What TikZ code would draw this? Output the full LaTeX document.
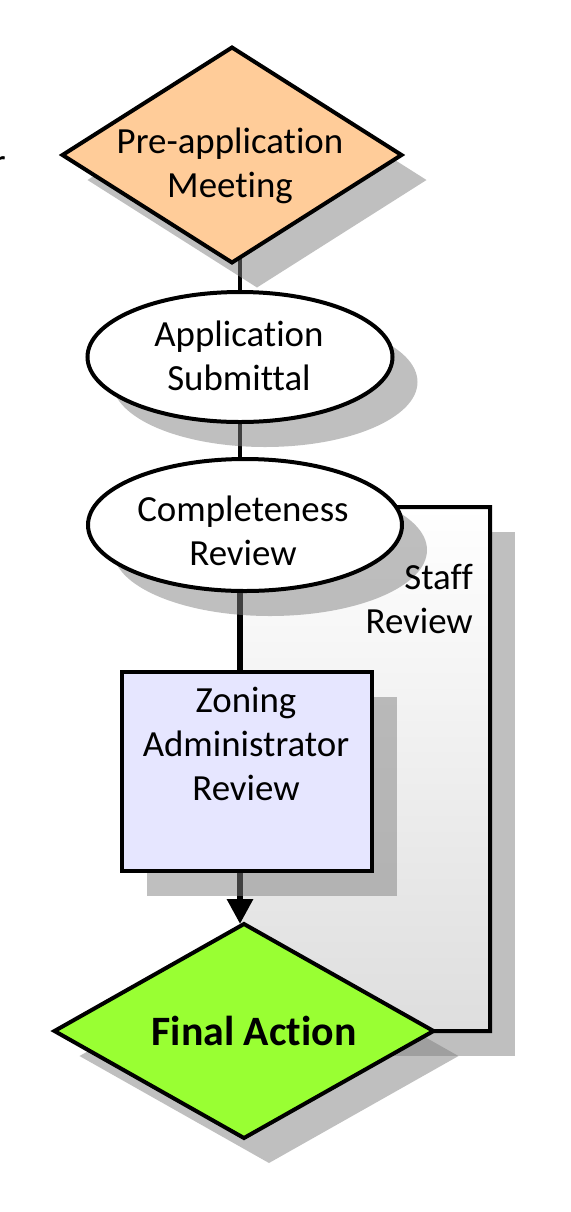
\documentclass[tikz,border=0pt]{standalone}
\usepackage{fontspec}
\setmainfont[Ligatures=NoCommon]{Carlito}
\usetikzlibrary{shapes.geometric,shadows,arrows.meta,backgrounds}
\definecolor{preclr}{RGB}{255,204,153}
\definecolor{zonclr}{RGB}{230,230,255}
\definecolor{finclr}{RGB}{153,255,51}
\tikzset{
  shad/.style={general shadow={fill=black!50, opacity=.5, shadow xshift=25bp, shadow yshift=-25bp}},
  shapebox/.style={draw=black, line width=4bp, inner sep=0pt, outer sep=0pt, shad},
  txt/.style={font=\fontsize{37}{44}\selectfont, align=center, inner sep=0pt},
  conn/.style={line width=4.5bp},
  thickconn/.style={line width=6bp},
}
\begin{document}
\begin{tikzpicture}[x=1bp,y=-1bp]
\useasboundingbox (0,0) rectangle (571,1212);
% shapes
\node[shapebox, diamond, fill=preclr, minimum width=339bp, minimum height=215bp] (pre) at (232,155) {};
\node[shapebox, ellipse, fill=white, minimum width=305bp, minimum height=130bp] (app) at (240,357) {};
\node[shapebox, ellipse, fill=white, minimum width=314bp, minimum height=132bp] (comp) at (245,525) {};
\node[shapebox, rectangle, fill=zonclr, minimum width=250bp, minimum height=199bp] (zon) at (247,771.5) {};
\node[shapebox, diamond, fill=finclr, minimum width=379bp, minimum height=214bp] (final) at (244,1031) {};
% texts
\node[txt] (pre-t) at (230,166) {Pre-application\\Meeting};
\node[txt] (app-t) at (239,356) {Application\\Submittal};
\node[txt] (comp-t) at (243,531) {Completeness\\Review};
\node[txt] (zon-t) at (246,744) {Zoning\\Administrator\\Review};
\node[txt, align=right, anchor=east] (staff-t) at (473,599) {Staff\\Review};
\node[txt, font=\fontsize{42}{48}\selectfont\bfseries] (fin-t) at (254,1031) {Final Action};
\node[txt, anchor=base east] (frag) at (6,174) {r};
% background: staff review box and connectors
\begin{scope}[on background layer]
  \node[rectangle, inner sep=0pt, outer sep=0pt, top color=white, bottom color=black!13, shad,
        minimum width=250bp, minimum height=524bp] (staff) at (365,769) {};
  \draw[conn] (pre.center -| app.center) -- (app.center);
  \draw[conn] (app.center) -- (app.center |- comp.center);
  \draw[thickconn] (app.center |- comp.center) -- (app.center |- zon.center);
  \draw[thickconn, -{Triangle[width=25bp,length=25bp]}] (app.center |- zon.center) -- (app.center |- final.north);
  \draw[line width=4bp] (comp.center |- staff.north) -- (staff.north east) -- (staff.south east) -- (final.east);
\end{scope}
\end{tikzpicture}
\end{document}
